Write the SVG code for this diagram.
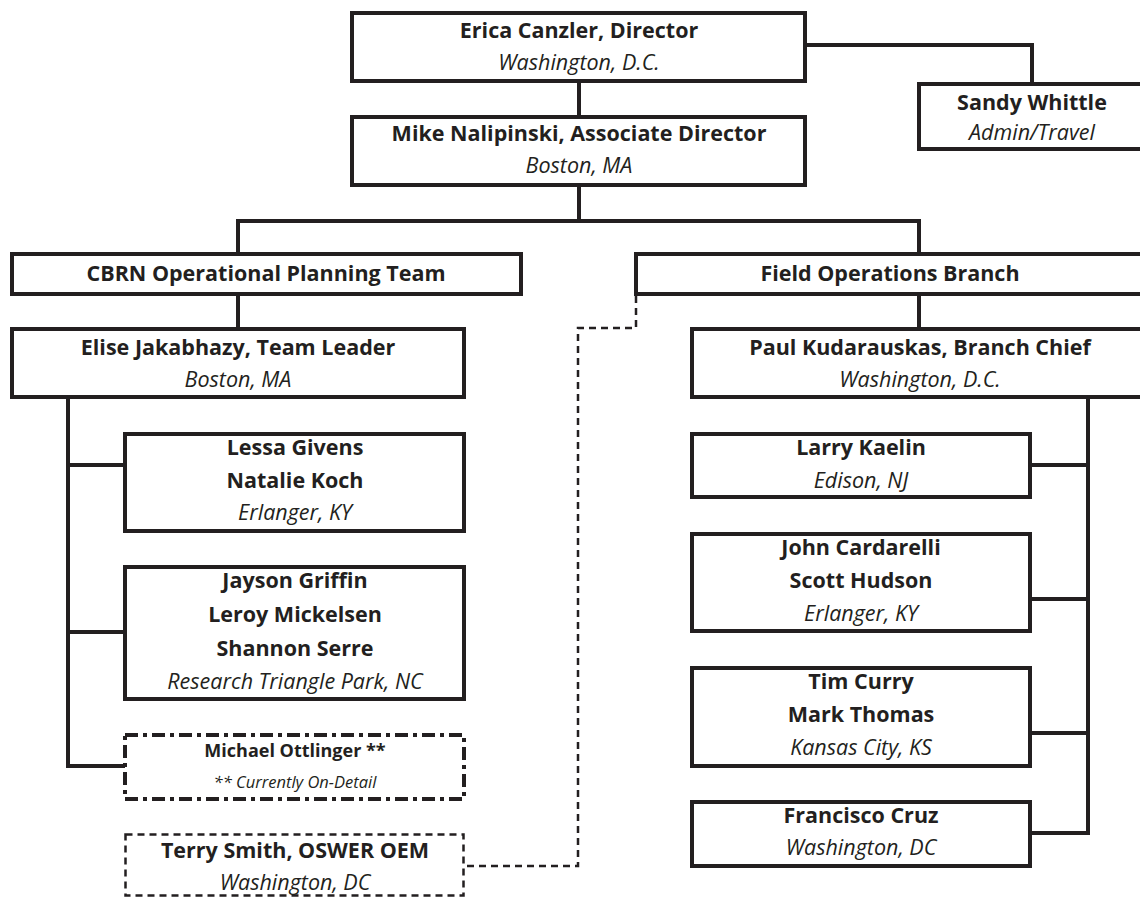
<svg xmlns="http://www.w3.org/2000/svg" width="1140" height="901" viewBox="0 0 1140 901">
<style>
.box{fill:#fff;stroke:#231f20;stroke-width:4}
.dd{stroke-dasharray:13 5 4 5}
.dsh{stroke-width:2.5;stroke-dasharray:7 5}
.t{font-family:"Open Sans","Noto Sans","Liberation Sans",sans-serif;font-size:21.5px;fill:#231f20;text-anchor:middle;font-weight:700}
.i{font-style:italic;font-weight:400}
.sm{font-size:18px}
.xs{font-size:16.5px}
.conn{fill:none;stroke:#231f20;stroke-width:4}
.dconn{fill:none;stroke:#231f20;stroke-width:2.5;stroke-dasharray:7 5}
</style>
<rect width="1140" height="901" fill="#fff"/>
<g id="connectors">
<path class="conn" d="M579 83 V117"/>
<path class="conn" d="M805 45 H1032 V84"/>
<path class="conn" d="M238 254 V221 H919 V254 M579 185 V221"/>
<path class="conn" d="M238 294 V329"/>
<path class="conn" d="M919 294 V329"/>
<path class="conn" d="M68 397 V766 H125 M68 465 H125 M68 632 H125"/>
<path class="conn" d="M1088 397 V833 H1030 M1030 465 H1088 M1030 599 H1088 M1030 733 H1088"/>
<path class="dconn" d="M636 296 V328 H578 V866 H465"/>
</g>
<g id="erica"><rect class="box" x="352" y="13" width="453" height="68"/><text class="t" x="579" y="38">Erica Canzler, Director</text><text class="t i" x="579" y="70">Washington, D.C.</text></g>
<g id="sandy"><rect class="box" x="919" y="84" width="240" height="65"/><text class="t" x="1032" y="110">Sandy Whittle</text><text class="t i" x="1032" y="140">Admin/Travel</text></g>
<g id="mike"><rect class="box" x="352" y="117" width="453" height="68"/><text class="t" x="579" y="141">Mike Nalipinski, Associate Director</text><text class="t i" x="579" y="173">Boston, MA</text></g>
<g id="cbrn"><rect class="box" x="12" y="254" width="509" height="40"/><text class="t" x="266" y="281">CBRN Operational Planning Team</text></g>
<g id="field"><rect class="box" x="636" y="254" width="520" height="40"/><text class="t" x="890" y="281">Field Operations Branch</text></g>
<g id="elise"><rect class="box" x="12" y="329" width="452" height="68"/><text class="t" x="238" y="355">Elise Jakabhazy, Team Leader</text><text class="t i" x="238" y="387">Boston, MA</text></g>
<g id="paul"><rect class="box" x="692" y="329" width="470" height="68"/><text class="t" x="920" y="355">Paul Kudarauskas, Branch Chief</text><text class="t i" x="920" y="387">Washington, D.C.</text></g>
<g id="lessa"><rect class="box" x="125" y="434" width="339" height="97"/><text class="t" x="295" y="455">Lessa Givens</text><text class="t" x="295" y="488">Natalie Koch</text><text class="t i" x="295" y="520">Erlanger, KY</text></g>
<g id="jayson"><rect class="box" x="125" y="567" width="339" height="132"/><text class="t" x="295" y="588">Jayson Griffin</text><text class="t" x="295" y="622">Leroy Mickelsen</text><text class="t" x="295" y="656">Shannon Serre</text><text class="t i" x="295" y="689">Research Triangle Park, NC</text></g>
<g id="michael"><rect class="box dd" x="125" y="735" width="339" height="64"/><text class="t sm" x="295" y="757">Michael Ottlinger **</text><text class="t i xs" x="295" y="788">** Currently On-Detail</text></g>
<g id="terry"><rect class="box dsh" x="125.5" y="834.5" width="338" height="61"/><text class="t" x="295" y="858">Terry Smith, OSWER OEM</text><text class="t i" x="295" y="890">Washington, DC</text></g>
<g id="larry"><rect class="box" x="692" y="434" width="338" height="63"/><text class="t" x="861" y="455">Larry Kaelin</text><text class="t i" x="861" y="488">Edison, NJ</text></g>
<g id="john"><rect class="box" x="692" y="534" width="338" height="97"/><text class="t" x="861" y="555">John Cardarelli</text><text class="t" x="861" y="588">Scott Hudson</text><text class="t i" x="861" y="621">Erlanger, KY</text></g>
<g id="tim"><rect class="box" x="692" y="668" width="338" height="98"/><text class="t" x="861" y="689">Tim Curry</text><text class="t" x="861" y="722">Mark Thomas</text><text class="t i" x="861" y="755">Kansas City, KS</text></g>
<g id="francisco"><rect class="box" x="692" y="802" width="338" height="64"/><text class="t" x="861" y="823">Francisco Cruz</text><text class="t i" x="861" y="855">Washington, DC</text></g>
</svg>
